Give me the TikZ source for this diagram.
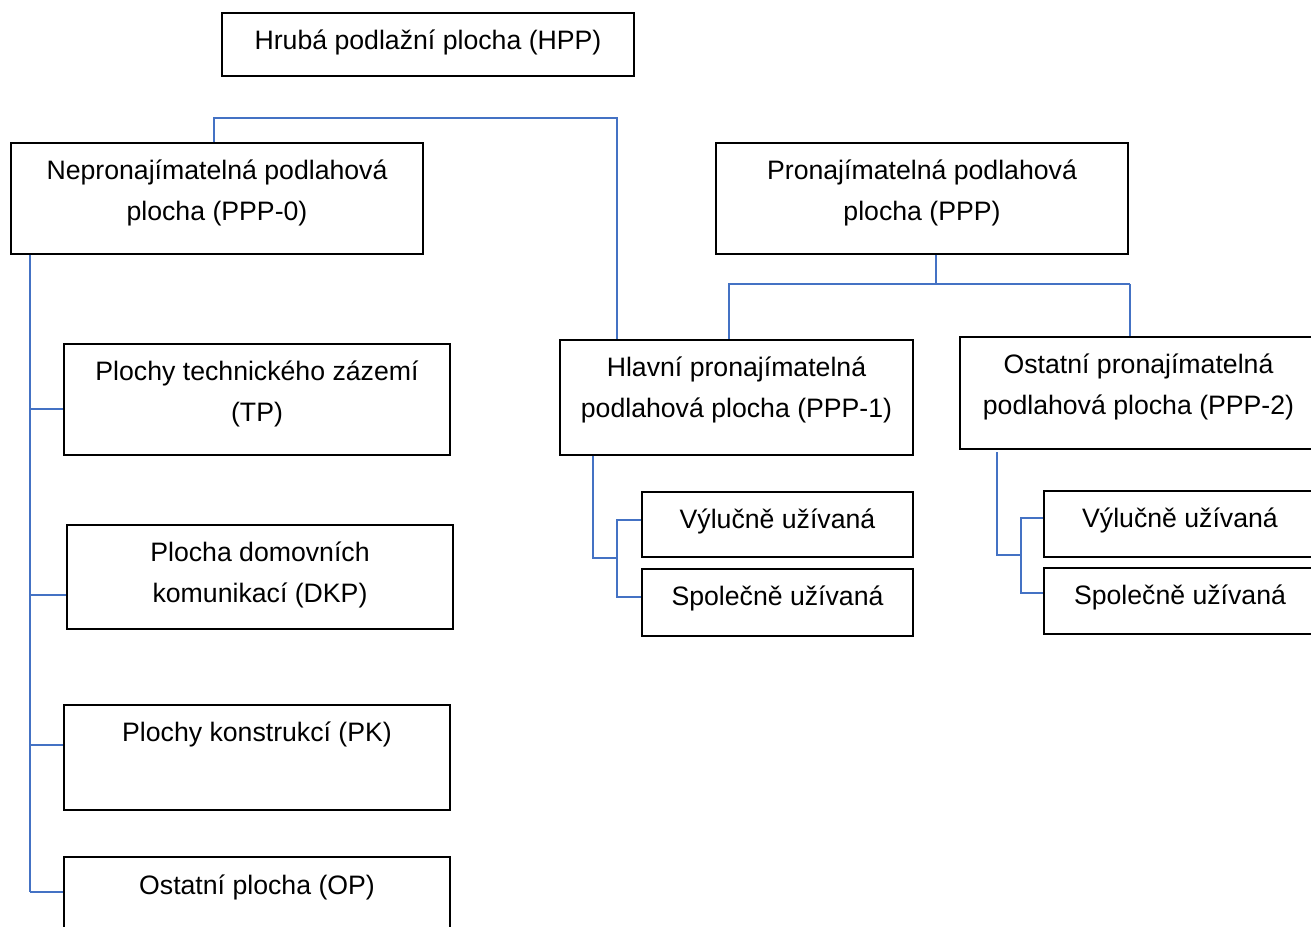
\documentclass[tikz,border=0pt]{standalone}
\usepackage{fontspec}
\setmainfont{Liberation Sans}
\definecolor{linkblue}{RGB}{68,114,196}
\tikzset{
  areabox/.style = {rectangle, draw=black, line width=1pt, inner sep=0pt},
  areatext/.style = {align=center, inner sep=0pt, anchor=base,
    font=\fontsize{20pt}{30.5pt}\selectfont},
  conn/.style = {draw=linkblue, line width=1pt}}

\begin{document}
\begin{tikzpicture}[x=0.75pt, y=-0.75pt]
 \useasboundingbox (0,0) rectangle (1311,927);
 \clip (0,0) rectangle (1311,927);
 \fill[white] (0,0) rectangle (1311,927);

\node [areabox, minimum width=309pt, minimum height=47.25pt] (hpp) at (428,44.5) {};
\node [areabox, minimum width=309pt, minimum height=83.25pt] (ppp0) at (217,198.5) {};
\node [areabox, minimum width=309pt, minimum height=83.25pt] (ppp) at (922,198.5) {};
\node [areabox, minimum width=289.5pt, minimum height=83.25pt] (tp) at (257,399.5) {};
\node [areabox, minimum width=289.5pt, minimum height=78pt] (dkp) at (260,577) {};
\node [areabox, minimum width=289.5pt, minimum height=78.75pt] (pk) at (257,757.5) {};
\node [areabox, minimum width=289.5pt, minimum height=82.5pt] (op) at (257,912) {};
\node [areabox, minimum width=264.75pt, minimum height=86.25pt] (ppp1) at (736.5,397.5) {};
\node [areabox, minimum width=267.75pt, minimum height=84pt] (ppp2) at (1138.5,393) {};
\node [areabox, minimum width=203.25pt, minimum height=48.75pt] (vyl1) at (777.5,524.5) {};
\node [areabox, minimum width=203.25pt, minimum height=50.25pt] (spol1) at (777.5,602.5) {};
\node [areabox, minimum width=204pt, minimum height=49.5pt] (vyl2) at (1180,524) {};
\node [areabox, minimum width=204pt, minimum height=49.5pt] (spol2) at (1180,601) {};

% texts (base = last line)
\node [areatext] (hpp-t) at ([yshift=-28pt]hpp.north) {Hrubá podlažní plocha (HPP)};
\node [areatext] (ppp0-t) at ([yshift=-58.5pt]ppp0.north) {Nepronajímatelná podlahová\\plocha (PPP-0)};
\node [areatext] (ppp-t) at ([yshift=-58.5pt]ppp.north) {Pronajímatelná podlahová\\plocha (PPP)};
\node [areatext] (tp-t) at ([yshift=-58.5pt]tp.north) {Plochy technického zázemí\\(TP)};
\node [areatext] (dkp-t) at ([yshift=-58.5pt]dkp.north) {Plocha domovních\\komunikací (DKP)};
\node [areatext] (pk-t) at ([yshift=-28pt]pk.north) {Plochy konstrukcí (PK)};
\node [areatext] (op-t) at ([yshift=-28.5pt]op.north) {Ostatní plocha (OP)};
\node [areatext] (ppp1-t) at ([yshift=-58.5pt]ppp1.north) {Hlavní pronajímatelná\\podlahová plocha (PPP-1)};
\node [areatext] (ppp2-t) at ([yshift=-58.5pt]ppp2.north) {Ostatní pronajímatelná\\podlahová plocha (PPP-2)};
\node [areatext] (vyl1-t) at ([yshift=-28pt]vyl1.north) {Výlučně užívaná};
\node [areatext] (spol1-t) at ([yshift=-28pt]spol1.north) {Společně užívaná};
\node [areatext] (vyl2-t) at ([yshift=-28pt]vyl2.north) {Výlučně užívaná};
\node [areatext] (spol2-t) at ([yshift=-28pt]spol2.north) {Společně užívaná};

% connectors
\coordinate (topbend) at (617,118);
\draw [conn] (214,0 |- ppp0.north) |- (topbend) -- (topbend |- ppp1.north);

\draw [conn] (30,0 |- ppp0.south) -- (30,892);
\foreach \nd/\yy in {tp/409, dkp/595, pk/745, op/892}
  \draw [conn] (30,\yy) -- (\nd.west |- 0,\yy);

\coordinate (pppbar) at (936,284);
\draw [conn] (pppbar |- ppp.south) -- (pppbar);
\draw [conn] (728,284) -- (1130,284);
\draw [conn] (729,284) -- (729,0 |- ppp1.north);
\draw [conn] (1130,284) -- (1130,0 |- ppp2.north);

\draw [conn] (593,0 |- ppp1.south) |- (617,558);
\draw [conn] (vyl1.west |- 0,520) -| (617,597) -- (spol1.west |- 0,597);

\draw [conn] (997,452) |- (1021,555);
\draw [conn] (vyl2.west |- 0,518) -| (1021,593) -- (spol2.west |- 0,593);
\end{tikzpicture}
\end{document}
